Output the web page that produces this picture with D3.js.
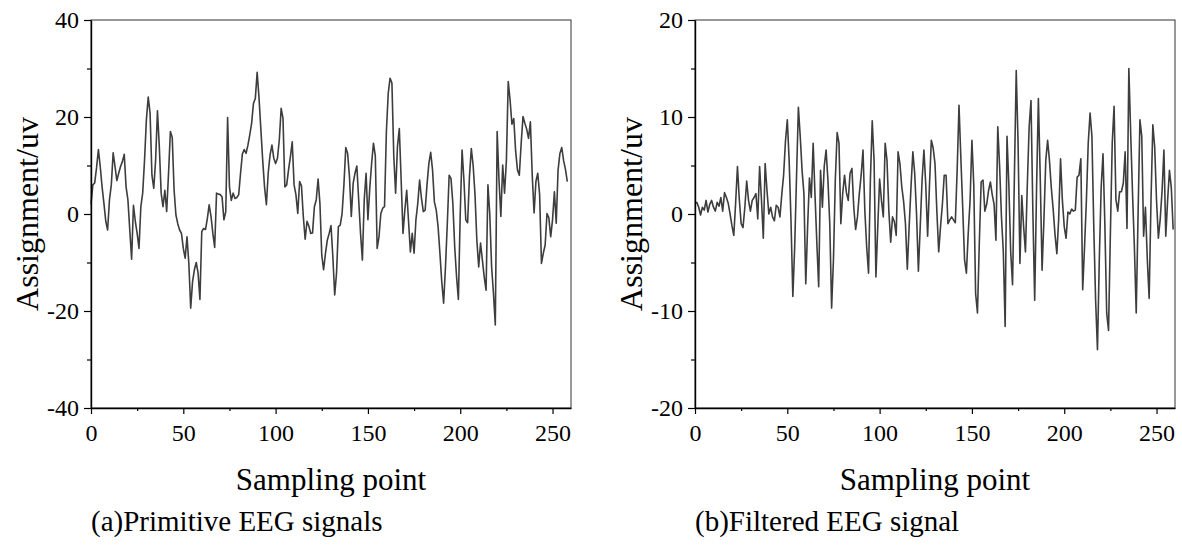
<!DOCTYPE html>
<html><head><meta charset="utf-8">
<script src="https://cdn.jsdelivr.net/npm/d3@7"></script>
<style>
body{margin:0;background:#fff}
svg{display:block}
text{font-family:"Liberation Serif","Times New Roman",serif;fill:#000}
</style>
</head><body>
<svg id="c" width="1182" height="548"></svg>
<script>
// ---- data ----
const primitiveEEG = [2.0, 6.0, 6.4, 9.5, 13.3, 9.8, 5.6, 2.2, -1.5, -3.3,
 2.9, 6.0, 12.6, 9.8, 6.9, 8.4, 9.8, 10.8, 12.3, 5.6,
 2.9, -3.3, -9.3, 1.8, -1.5, -4.0, -7.1, 1.5, 4.3, 11.1,
 19.4, 24.1, 20.8, 8.0, 5.3, 11.1, 21.3, 13.9, 4.3, 1.5,
 4.9, 0.5, 8.4, 17.0, 15.8, 5.0, -0.2, -2.0, -3.3, -4.0,
 -7.1, -9.1, -4.7, -10.2, -19.4, -14.0, -11.5, -10.0, -12.2, -17.6,
 -3.6, -3.0, -3.2, -1.0, 1.9, -0.5, -4.0, -6.9, 4.3, 4.1,
 4.0, 3.5, -1.2, 0.5, 19.9, 5.6, 2.8, 4.3, 3.2, 3.4,
 4.0, 8.4, 12.4, 13.3, 12.5, 14.2, 16.3, 18.7, 22.8, 23.8,
 29.2, 24.0, 17.5, 11.1, 5.6, 1.9, 8.5, 12.2, 14.2, 11.5,
 10.4, 11.5, 15.3, 21.8, 19.7, 5.6, 6.0, 9.1, 11.8, 14.9,
 6.0, 4.0, 0.1, 6.7, 5.8, -0.5, -5.2, -1.5, -2.5, -4.0,
 -3.9, 1.5, 2.9, 7.2, 2.2, -8.5, -11.5, -8.1, -5.4, -4.0,
 -2.4, -8.8, -16.7, -12.2, -2.6, -2.3, 0.1, 6.0, 13.7, 12.5,
 7.7, -0.5, 6.3, 8.4, 9.9, 2.9, -4.0, -9.5, 2.9, 8.4,
 -1.2, 5.3, 10.4, 14.6, 12.0, -7.1, -4.7, 0.1, 1.2, 1.5,
 17.0, 24.9, 28.0, 27.0, 12.0, 4.3, 13.9, 17.6, 7.0, -4.0,
 0.8, 4.9, -1.5, -7.8, -4.0, -8.1, -1.2, 2.2, 7.0, 3.2,
 0.5, 0.8, 6.0, 10.4, 12.7, 9.1, 2.5, 0.8, -2.6, -8.1,
 -14.0, -18.4, -11.0, -2.0, 8.0, 7.3, 2.2, -6.7, -12.9, -17.6,
 0.0, 13.2, 7.0, -1.2, -1.8, 7.7, 13.5, 10.0, 4.0, -5.4,
 -10.9, -6.0, -9.5, -13.0, -15.7, 6.0, 0.0, -10.9, -16.4, -22.9,
 17.0, 7.0, -0.5, 10.1, 4.3, 11.0, 27.3, 23.5, 18.5, 19.7,
 13.0, 9.1, 8.0, 14.5, 20.1, 18.7, 17.5, 15.6, 19.0, 8.0,
 0.2, 6.7, 8.4, 4.0, -10.2, -8.1, -6.4, 0.1, -0.8, -4.7,
 -1.2, 4.6, -1.9, 9.1, 12.5, 13.7, 11.0, 9.2, 6.7];

const filteredEEG = [1.1, 1.2, 0.7, -0.1, 0.7, 0.4, 1.4, 0.2, 1.0, 1.4,
 0.7, 0.3, 1.2, 0.8, 1.7, 0.3, 2.2, 1.7, 1.1, 0.0,
 -1.2, -2.2, 1.1, 4.9, 1.5, -1.0, -1.4, 0.7, 3.4, 1.4,
 0.3, 1.4, 1.7, 2.1, -0.5, 4.9, 1.5, -2.5, 5.2, 2.4,
 0.0, 0.7, -0.3, -0.7, 0.9, 0.7, -0.3, 2.0, 4.0, 7.5,
 9.7, 5.5, -0.7, -8.5, -3.4, 3.9, 11.0, 8.0, 4.5, 2.1,
 -7.2, -1.3, 3.7, 1.7, 7.3, 2.0, -3.0, -7.5, 4.5, 0.7,
 4.9, 6.6, 3.5, -1.0, -9.7, -4.7, 3.5, 8.4, 7.3, -1.0,
 2.1, 4.0, 2.2, 1.4, 4.2, 4.7, 0.7, -1.6, -0.3, 2.1,
 4.0, 6.6, 0.3, -3.4, -6.1, 3.5, 9.6, 5.5, -6.5, -1.3,
 3.6, 1.4, -0.3, 7.3, 5.5, 0.3, -2.9, -0.3, -0.8, -2.2,
 6.4, 5.2, 2.8, 1.3, -1.0, -5.7, -1.3, 2.8, 6.4, 4.2,
 0.0, -5.9, -1.3, 3.5, 6.6, 3.0, -2.3, 2.9, 7.6, 6.8,
 5.2, 0.3, -3.9, -1.3, 1.0, 4.0, 4.0, -1.0, -0.6, -0.3,
 -0.6, -0.9, 4.5, 11.2, 5.8, 0.7, -4.7, -6.1, -2.0, 1.4,
 7.6, 3.0, -8.2, -10.2, -3.0, 3.3, 3.5, 0.3, 1.0, 2.4,
 3.3, 2.0, 1.0, -2.7, 9.0, 4.9, -0.3, -3.9, -11.6, 8.0,
 3.0, -3.9, -7.3, 3.8, 14.8, 7.3, -5.1, 1.9, -1.3, -3.9,
 3.0, 9.0, 11.7, 0.3, -8.9, 2.5, 11.9, 3.8, -5.8, -0.6,
 5.5, 7.6, 5.5, 2.7, 0.5, -2.1, -4.1, -0.5, 5.7, 1.4,
 -1.3, -2.5, 0.2, 0.0, 0.5, 0.3, 0.4, 3.8, 4.0, 5.7,
 -7.8, -3.4, 1.4, 7.3, 10.4, 8.0, -1.3, -8.9, -14.0, -4.7,
 2.7, 6.2, -1.0, -10.2, -12.0, -2.0, 7.3, 11.1, 1.5, 0.3,
 2.3, 2.3, 3.2, 6.4, -1.5, 15.0, 8.3, 2.1, -3.4, -10.2,
 0.0, 9.7, 8.0, -2.3, 0.7, -4.7, -8.7, 1.4, 9.2, 6.9,
 1.4, -2.5, -0.5, 2.4, 6.6, -2.3, 1.4, 4.5, 2.7, -1.6];

const xDomain = [0, 260];
const xTicks = [0, 50, 100, 150, 200, 250];
const xMinorTicks = [25, 75, 125, 175, 225];
const yDomainA = [-40, 40];
const yTicksA = [-40, -20, 0, 20, 40];
const yMinorA = [-30, -10, 10, 30];
const yDomainB = [-20, 20];
const yTicksB = [-20, -10, 0, 10, 20];
const yMinorB = [-15, -5, 5, 15];
const xTitle = "Sampling point";
const yTitle = "Assignment/uv";
const captions = ["(a)Primitive EEG signals", "(b)Filtered EEG signal"];

// ---- drawing ----
const svg = d3.select('#c');
const TOP = 20, H = 388, W = 480;

function panel(x0, data, yDomain, yTicks, yMinor, caption) {
  const x = d3.scaleLinear().domain(xDomain).range([x0, x0 + W]);
  const y = d3.scaleLinear().domain(yDomain).range([TOP + H, TOP]);
  const g = svg.append('g');

  // frame
  g.append('rect').attr('x', x0).attr('y', TOP).attr('width', W).attr('height', H)
    .attr('fill', 'none').attr('stroke', '#333').attr('stroke-width', 1);

  // signal
  g.append('path').datum(data)
    .attr('d', d3.line().x((d, i) => x(i)).y(d => y(d)))
    .attr('fill', 'none').attr('stroke', '#3d3d3d').attr('stroke-width', 1.6)
    .attr('stroke-linejoin', 'round');

  const fmt = d => String(d);
  // x axis
  const xa = g.append('g').attr('transform', `translate(0,${TOP + H})`)
    .call(d3.axisBottom(x).tickValues(xTicks).tickSize(6).tickSizeOuter(0).tickPadding(10).tickFormat(fmt));
  g.append('g').attr('transform', `translate(0,${TOP + H})`)
    .call(d3.axisBottom(x).tickValues(xMinorTicks).tickSize(3).tickSizeOuter(0).tickFormat(''))
    .select('.domain').remove();
  // y axis
  const ya = g.append('g').attr('transform', `translate(${x0},0)`)
    .call(d3.axisLeft(y).tickValues(yTicks).tickSize(7).tickSizeOuter(0).tickPadding(5).tickFormat(fmt));
  g.append('g').attr('transform', `translate(${x0},0)`)
    .call(d3.axisLeft(y).tickValues(yMinor).tickSize(4).tickSizeOuter(0).tickFormat(''))
    .select('.domain').remove();

  g.selectAll('.domain').attr('stroke', '#000').attr('stroke-width', 1.4);
  g.selectAll('.tick line').attr('stroke', '#000').attr('stroke-width', 1.2);
  g.selectAll('.tick text').attr('font-size', 24)
    .attr('font-family', '"Liberation Serif","Times New Roman",serif').attr('fill', '#000');

  // titles
  g.append('text').attr('x', x0 + W / 2).attr('y', 490).attr('text-anchor', 'middle')
    .attr('font-size', 31).text(xTitle);
  g.append('text').attr('transform', `translate(${x0 - 53},${TOP + H / 2}) rotate(-90)`)
    .attr('text-anchor', 'middle').attr('font-size', 32).text(yTitle);
  g.append('text').attr('x', x0).attr('y', 531).attr('text-anchor', 'start')
    .attr('font-size', 29).text(caption);
}

panel(91, primitiveEEG, yDomainA, yTicksA, yMinorA, captions[0]);
panel(695, filteredEEG, yDomainB, yTicksB, yMinorB, captions[1]);
</script>
</body></html>
